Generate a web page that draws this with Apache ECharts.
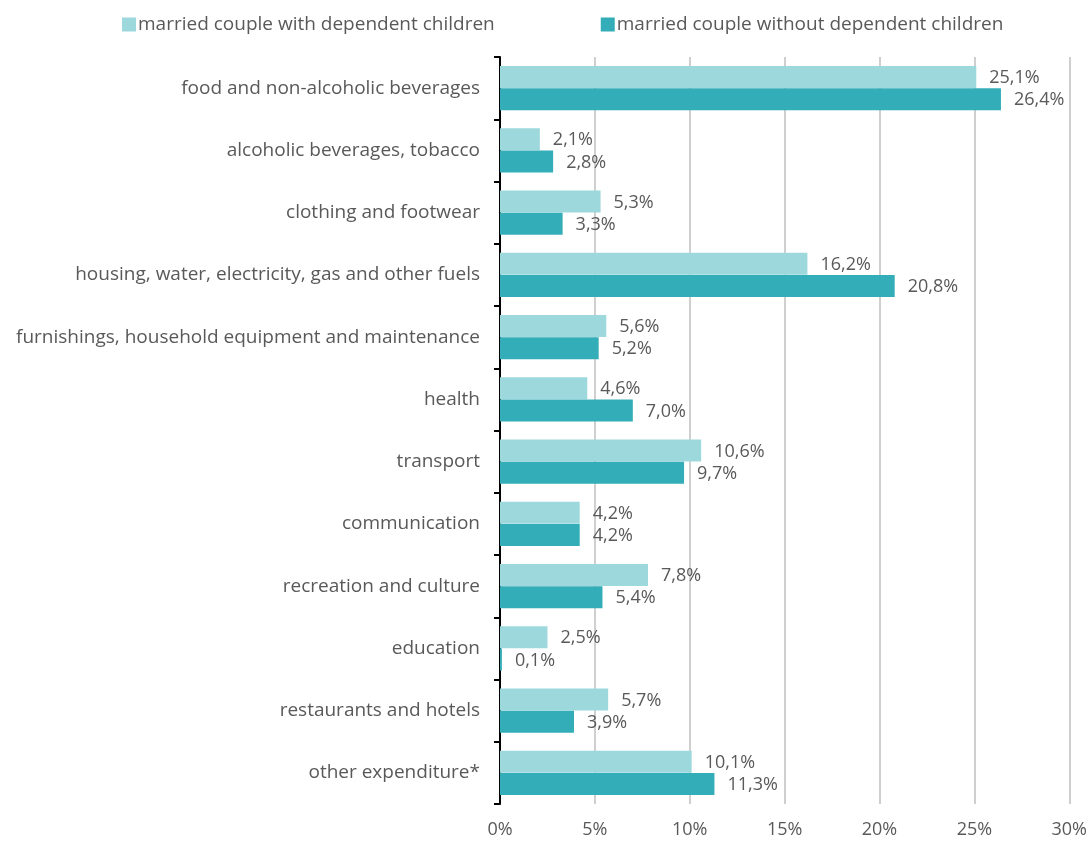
<!DOCTYPE html>
<html>
<head>
<meta charset="utf-8">
<script src="https://cdn.jsdelivr.net/npm/echarts@6/dist/echarts.min.js"></script>
<style>
  html, body { margin: 0; padding: 0; background: #fff; }
  #chart { width: 1090px; height: 842px; }
</style>
</head>
<body>
<div id="chart"></div>
<script>
// household expenditure structure: with vs without dependent children
const categories = [
  "food and non-alcoholic beverages",
  "alcoholic beverages, tobacco",
  "clothing and footwear",
  "housing, water, electricity, gas and other fuels",
  "furnishings, household equipment and maintenance",
  "health",
  "transport",
  "communication",
  "recreation and culture",
  "education",
  "restaurants and hotels",
  "other expenditure*"
];
const withChildren = [25.1, 2.1, 5.3, 16.2, 5.6, 4.6, 10.6, 4.2, 7.8, 2.5, 5.7, 10.1];
const withoutChildren = [26.4, 2.8, 3.3, 20.8, 5.2, 7.0, 9.7, 4.2, 5.4, 0.1, 3.9, 11.3];
const xTicks = [0, 5, 10, 15, 20, 25, 30];

const LIGHT = "#9dd8dc";
const DARK = "#33adb7";
const TXT = "#595959";
const FONT = "'Open Sans', 'DejaVu Sans', sans-serif";

const chart = echarts.init(document.getElementById("chart"), null, { renderer: "canvas" });

const pct = v => v.toFixed(1).replace(".", ",") + "%";

const labelCfg = {
  show: true, position: "right", distance: 13, offset: [0, 1],
  color: TXT, fontSize: 18, fontFamily: FONT,
  formatter: p => pct(p.value)
};

chart.setOption({
  backgroundColor: "#fff",
  animation: false,
  textStyle: { fontFamily: FONT },
  legend: {
    top: 10, left: 117, itemWidth: 14, itemHeight: 14, itemGap: 106,
    icon: "rect",
    textStyle: { color: TXT, fontSize: 19, fontFamily: FONT, padding: [0, 0, 0, -3] },
    data: ["married couple with dependent children", "married couple without dependent children"]
  },
  grid: { left: 500, right: 20, top: 57, bottom: 38, containLabel: false },
  xAxis: {
    type: "value", min: xTicks[0], max: xTicks[xTicks.length - 1], interval: 5,
    axisLine: { show: false }, axisTick: { show: false },
    axisLabel: { color: TXT, fontSize: 18, fontFamily: FONT, margin: 17, formatter: v => v + "%" },
    splitLine: { lineStyle: { color: "#bfbfbf", width: 1.5 } }
  },
  yAxis: {
    type: "category", data: categories, inverse: true,
    axisLine: { lineStyle: { color: "#000", width: 2 } },
    axisTick: { show: true, inside: false, length: 6, lineStyle: { color: "#000", width: 2 } },
    axisLabel: { color: TXT, fontSize: 19, fontFamily: FONT, margin: 20 }
  },
  series: [
    {
      name: "married couple with dependent children", type: "bar",
      data: withChildren, barWidth: 22, barGap: "2%",
      itemStyle: { color: LIGHT }, label: labelCfg
    },
    {
      name: "married couple without dependent children", type: "bar",
      data: withoutChildren, barWidth: 22, barGap: "2%",
      itemStyle: { color: DARK }, label: labelCfg
    }
  ]
});
</script>
</body>
</html>
